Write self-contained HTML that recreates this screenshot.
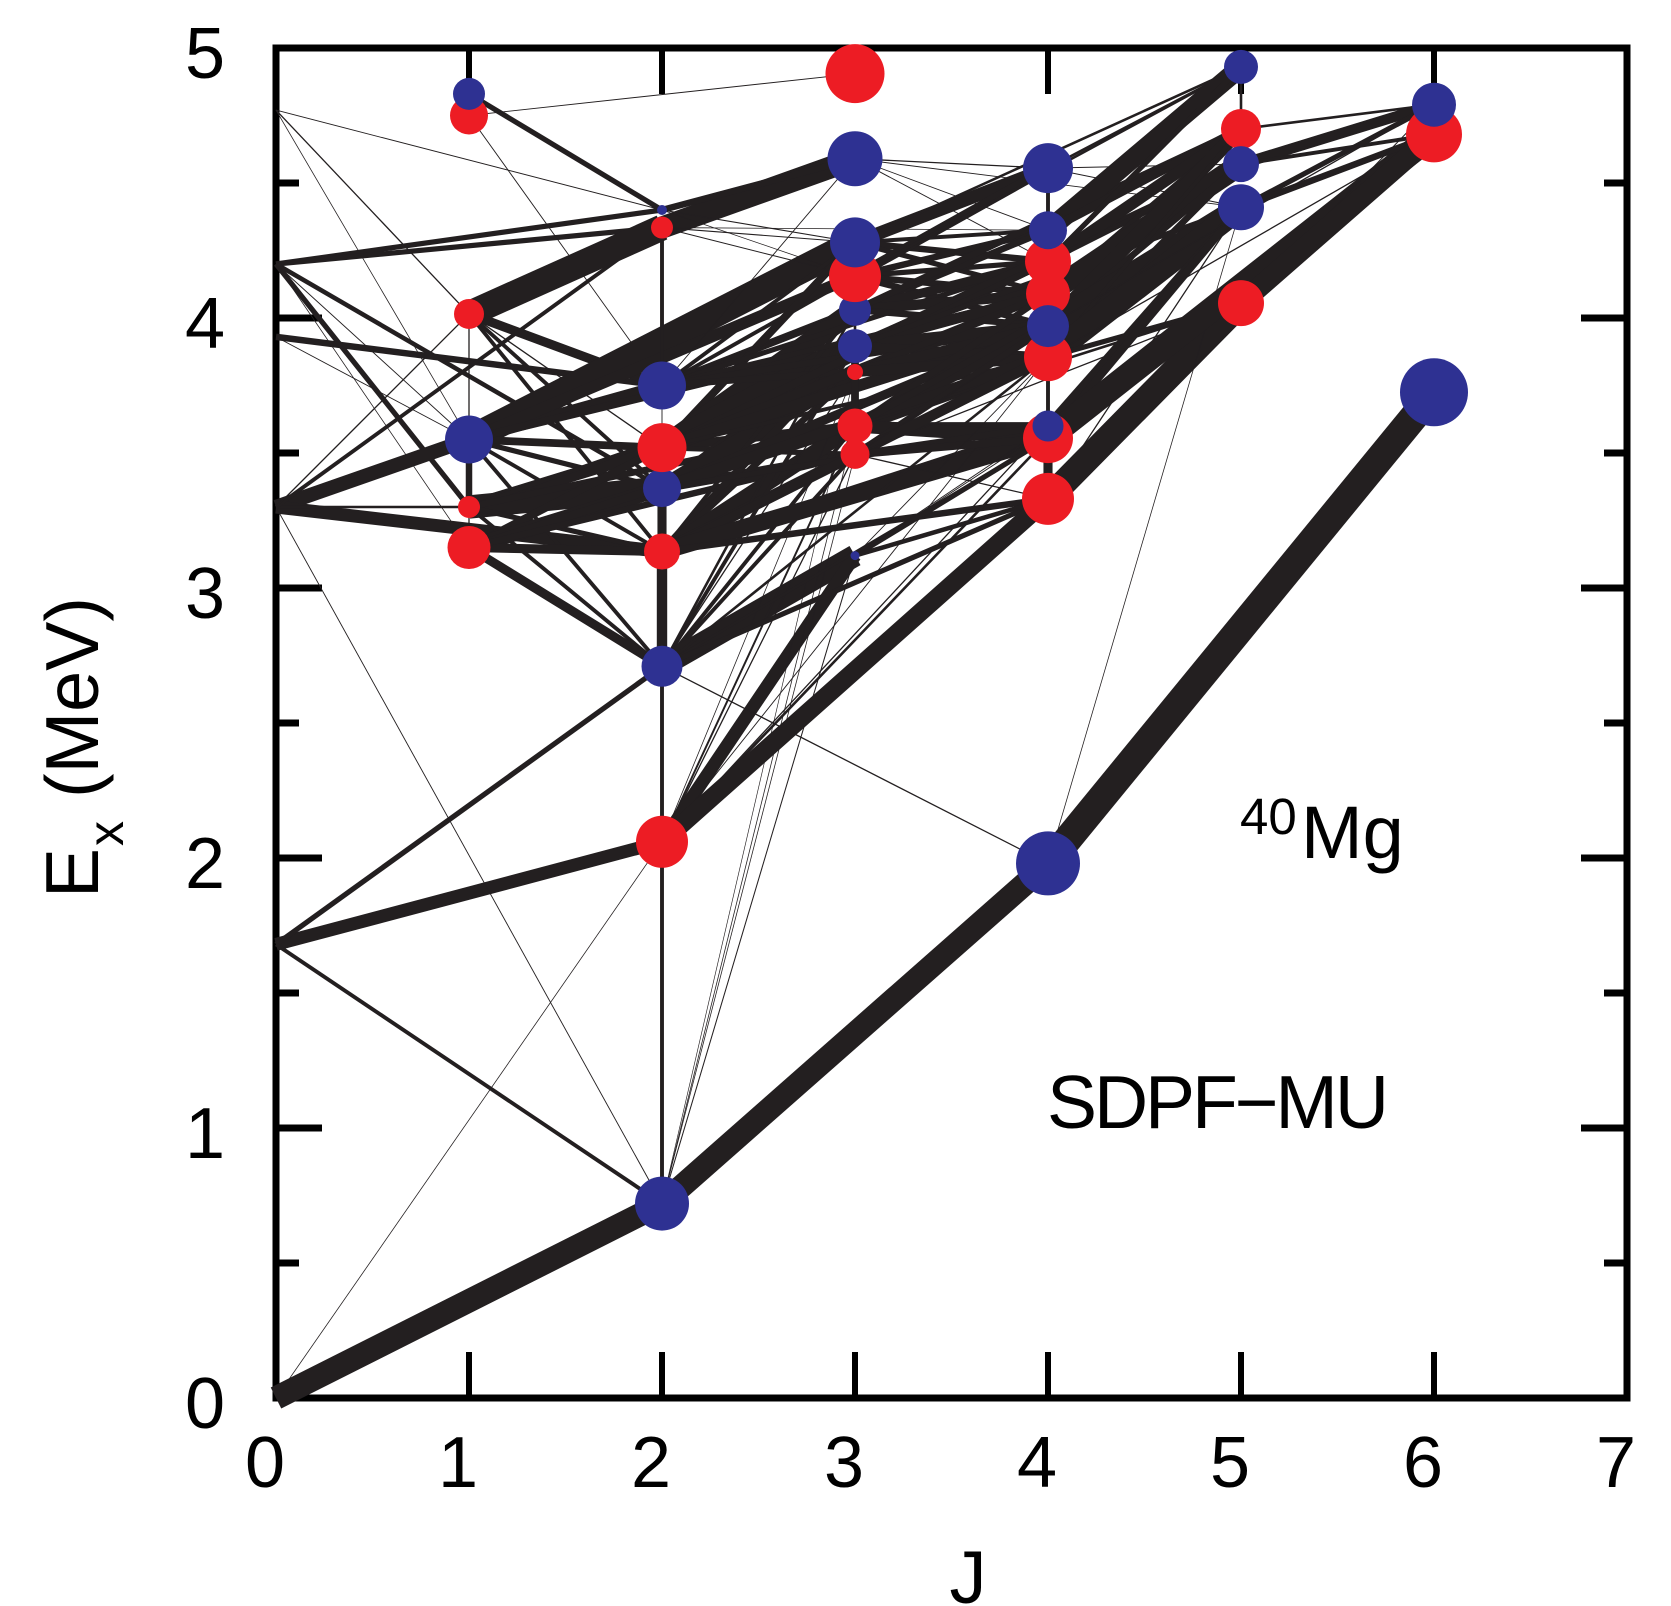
<!DOCTYPE html>
<html>
<head>
<meta charset="utf-8">
<title>40Mg SDPF-MU level scheme</title>
<style>
html,body{margin:0;padding:0;background:#fff;width:1671px;height:1606px;overflow:hidden}
svg{display:block}
text{font-family:"Liberation Sans",sans-serif;fill:#000}
</style>
</head>
<body>
<svg id="chart" xmlns="http://www.w3.org/2000/svg" width="1671" height="1606" viewBox="0 0 1671 1606">
  <g id="axes"></g>
  <g id="edges"></g>
  <g id="nodes"></g>
  <g id="labels"></g>
  <text x="968" y="1603" font-size="74" text-anchor="middle">J</text>
  <g>
    <text transform="translate(98,898) rotate(-90)" font-size="75">E</text>
    <text transform="translate(123,846) rotate(-90)" font-size="50">x</text>
    <text transform="translate(98,798) rotate(-90)" font-size="75" textLength="201" lengthAdjust="spacingAndGlyphs">(MeV)</text>
  </g>
  <g>
    <text x="1240" y="834" font-size="51">40</text>
    <text x="1301" y="858" font-size="74">Mg</text>
  </g>
  <text x="1047" y="1128" font-size="75" textLength="342" lengthAdjust="spacing">SDPF&#8722;MU</text>
</svg>
<script>
// Axis ranges and tick labels
const xTickValues = [0, 1, 2, 3, 4, 5, 6, 7];
const yTickValues = [0, 1, 2, 3, 4, 5];
const yMinorTickValues = [0.5, 1.5, 2.5, 3.5, 4.5];

// Level data: id, spin J, excitation energy (MeV), marker weight, kind
const stateIds    = ['a0','a1','a2','a3','a4','a5'];
const stateSpins  = [0,0,0,0,0,0];
const stateEnergy = [0,1.68,3.3,3.93,4.2,4.77];

const levelIds = ['b0','b1','b2','b3','b4','b5','c0','c1','c2','c3','c4','c5','c6','c7','c8','d0','d1','d2','d3','d4','d5','d6','d7','d8','d9','e0','e1','e2','e3','e4','e5','e6','e7','e8','e9','f0','f1','f2','f3','f4','g0','g1','g2'];
const levelSpins = [1,1,1,1,1,1,2,2,2,2,2,2,2,2,2,3,3,3,3,3,3,3,3,3,3,4,4,4,4,4,4,4,4,4,4,5,5,5,5,5,6,6,6];
const levelEnergy = [4.83,4.75,4.015,3.55,3.30,3.15,4.40,4.335,3.75,3.52,3.37,3.135,2.71,2.06,0.72,4.905,4.59,4.28,4.155,4.03,3.896,3.80,3.60,3.495,3.12,4.555,4.325,4.21,4.09,3.97,3.855,3.60,3.555,3.33,1.98,4.93,4.70,4.57,4.41,4.055,4.79,4.68,3.725];
const levelWeight = [16,19,15,24,11,21.5,5,11,24,24.5,19,18,20.5,26,27,29.5,27.5,25,26,16,17,8,17.5,14.5,4.5,25,19,23,22,21,24,15.5,25,26,32,17,20,18,23,23,22,28,34];
const levelKind = ['p','r','r','p','r','r','p','r','p','r','p','r','p','r','p','r','p','p','r','p','p','r','r','r','p','p','p','r','r','p','r','p','r','r','p','p','r','p','p','r','p','r','p'];
// draw order among overlapping markers within a spin column (later on top)
const levelDrawOrder = ['b1','b0','b2','b3','b4','b5','c0','c1','c2','c4','c3','c5','c6','c7','c8','d0','d1','d4','d3','d2','d5','d6','d7','d8','d9','e0','e2','e1','e5','e3','e4','e7','e6','e8','e9','f0','f1','f2','f3','f4','g1','g0','g2'];

// Transition strengths [from, to, strength]
const yrastBand = [['a0','c8',18],['c8','e9',18],['e9','g2',22]];
const fromSpin0 = [['a5','b2',1],['a5','b3',.6],['a5','c0',.7],['a4','c0',4],['a4','c1',4],['a4','b4',4],['a4','c4',3.5],['a4','b3',.7],['a4','b5',.6],['a3','c2',5],['a3','b3',.7],['a2','b3',11],['a2','c5',10],['a2','b4',2],['a2','c1',3],['a2','b2',1],['a1','c7',10],['a1','c6',4],['a1','c8',3],['a0','c7',.6],['a2','c8',.7]];
const fromSpin1 = [['b0','c0',4],['b1','d0',.7],['b1','c2',.7],['b2','c1',20],['b2','c2',7],['b2','c4',3],['b2','c5',3],['b2','c3',1],['b2','b3',1],['b3','b4',5],['b4','b5',1],['b3','d2',21],['b3','c2',9],['b3','c3',6],['b3','c4',4],['b3','c5',3],['b3','c6',3],['b3','d3',9],['b3','d5',6],['b4','c3',10],['b4','c4',18],['b4','c5',4],['b4','c6',3],['b4','d6',3],['b4','d7',5],['b5','c3',6],['b5','c4',12],['b5','c5',7],['b5','c6',7],['b5','d7',6],['b5','d8',5]];
const fromSpin2 = [['c8','c7',3],['c7','c6',3],['c6','c5',8],['c5','c4',7],['c1','c2',3],['c2','c3',.7],['c1','d1',17],['c0','d1',5],['c1','d2',.8],['c1','d3',.8],['c0','d2',.8],['c0','d3',.6],['c2','d1',.7],['c2','d2',3],['c2','d3',3],['c2','d4',6],['c2','d5',4],['c3','d2',6],['c3','d4',16],['c3','d5',20],['c3','d6',10],['c3','d7',7],['c3','d8',4],['c4','d5',7],['c4','d6',13],['c4','d7',7],['c4','d8',7],['c5','d4',3],['c5','d5',6],['c5','d6',5],['c5','d7',12],['c5','d8',9],['c6','d4',2],['c6','d5',3],['c6','d6',1],['c6','d7',3],['c6','d8',3],['c6','d9',17],['c7','d6',.6],['c7','d7',1.5],['c7','d8',1],['c7','d9',10],['c8','d6',.5],['c8','d7',.6],['c8','d8',.6],['c8','d9',.8],['c1','e1',.6],['c2','e1',1],['c2','e2',4],['c2','e3',4],['c2','e4',5],['c2','e5',5],['c3','e2',6],['c3','e3',7],['c3','e4',9],['c3','e5',3],['c4','e4',7],['c4','e5',9],['c4','e6',4],['c5','e5',6],['c5','e6',6],['c5','e7',13],['c5','e8',5],['c6','e5',2],['c6','e7',2],['c6','e8',4],['c6','e9',1],['c7','e5',.7],['c7','e6',1],['c7','e7',2],['c7','e8',14]];
const fromSpin3 = [['d4','d5',2],['d5','d7',6],['d1','e0',1],['d1','e1',.7],['d1','e2',.7],['d1','f3',.7],['d2','e0',10],['d2','e1',3],['d2','e2',5],['d2','e3',4],['d2','f0',2],['d3','e0',7],['d3','e1',5],['d3','e2',4],['d3','e3',5],['d3','e4',5],['d3','f0',2],['d4','e1',5],['d4','e2',7],['d4','e3',8],['d4','e4',5],['d4','f1',5],['d5','e2',7],['d5','e3',8],['d5','e4',9],['d5','e5',7],['d5','f2',5],['d5','f3',4],['d6','e3',5],['d6','e4',8],['d6','e5',8],['d7','e3',5],['d7','e4',10],['d7','e5',12],['d7','e6',6],['d7','e7',10],['d7','f3',5],['d7','f4',2],['d8','e4',5],['d8','e5',8],['d8','e6',5],['d8','e7',6],['d8','e8',1],['d8','f3',.8],['d8','f4',1],['d9','e5',.7],['d9','e6',.7],['d9','e7',4],['d9','e8',3.5],['d9','f4',.7]];
const fromSpin4 = [['e0','e1',3],['e5','e6',3],['e7','e8',7],['e0','f0',2],['e0','f2',.8],['e0','f3',.8],['e1','f0',15],['e1','f1',7],['e2','f0',4],['e2','f1',9],['e2','f2',4],['e3','f1',4],['e3','f2',17],['e4','f1',11],['e4','f2',5],['e4','f3',18],['e5','f1',3],['e5','f2',5],['e5','f3',18],['e5','f4',4],['e6','f3',7],['e6','f4',6],['e7','f3',6],['e7','f4',4],['e8','f3',1],['e8','f4',20],['e9','f3',.6],['e4','g0',1],['e5','g1',1],['e6','g1',1],['e7','g1',19]];
const fromSpin5 = [['f0','f1',2],['f1','g0',2],['f2','g0',8],['f2','g1',3],['f3','g0',4],['f3','g1',5],['f4','g0',.8],['f4','g1',16]];

const edgeGroups = [fromSpin0, fromSpin1, fromSpin2, fromSpin3, fromSpin4, fromSpin5, yrastBand];

// Axis functions
const xScale = j => 276 + j * 193;
const yScale = e => 1398 - e * 270;
const widthScale = s => s * 1.3;
const radiusScale = w => w * 1.0;

const NS = 'http://www.w3.org/2000/svg';
function make(tag, attrs, parent) {
  const el = document.createElementNS(NS, tag);
  for (const k in attrs) el.setAttribute(k, attrs[k]);
  parent.appendChild(el);
  return el;
}

const axesG = document.getElementById('axes');
const edgesG = document.getElementById('edges');
const nodesG = document.getElementById('nodes');
const labelsG = document.getElementById('labels');

// Frame
const frame = make('rect', {x: xScale(0), y: yScale(5), width: xScale(7) - xScale(0), height: yScale(0) - yScale(5), fill: 'none', stroke: '#000', 'stroke-width': 7}, axesG);



// X ticks (top and bottom)
xTickValues.forEach(j => {
  if (j > 0 && j < 7) {
    const b = make('line', {x1: xScale(j), x2: xScale(j), y1: yScale(0), y2: yScale(0) - 46, stroke: '#000', 'stroke-width': 6}, axesG);
    
    
    const t = make('line', {x1: xScale(j), x2: xScale(j), y1: yScale(5), y2: yScale(5) + 46, stroke: '#000', 'stroke-width': 6}, axesG);
    
    
  }
  const lab = make('text', {x: xScale(j) - 11, y: 1487, 'font-size': 72, 'text-anchor': 'middle'}, labelsG);
  lab.textContent = String(j);
  
  
});

// Y ticks (left and right)
yTickValues.forEach(e => {
  if (e > 0 && e < 5) {
    const l = make('line', {x1: xScale(0), x2: xScale(0) + 46, y1: yScale(e), y2: yScale(e), stroke: '#000', 'stroke-width': 7}, axesG);
    
    
    const r = make('line', {x1: xScale(7), x2: xScale(7) - 46, y1: yScale(e), y2: yScale(e), stroke: '#000', 'stroke-width': 7}, axesG);
    
    
  }
  const lab = make('text', {x: 205, y: yScale(e) + 30, 'font-size': 72, 'text-anchor': 'middle'}, labelsG);
  lab.textContent = String(e);
  
  
});
yMinorTickValues.forEach(e => {
  const l = make('line', {x1: xScale(0), x2: xScale(0) + 23, y1: yScale(e), y2: yScale(e), stroke: '#000', 'stroke-width': 7}, axesG);
  
  
  const r = make('line', {x1: xScale(7), x2: xScale(7) - 23, y1: yScale(e), y2: yScale(e), stroke: '#000', 'stroke-width': 7}, axesG);
  
  
});

// Lookup tables
const lookup = {};
stateIds.forEach((id, i) => { lookup[id] = {j: stateSpins[i], e: stateEnergy[i]}; });
levelIds.forEach((id, i) => { lookup[id] = {j: levelSpins[i], e: levelEnergy[i], w: levelWeight[i], k: levelKind[i]}; });

// Transitions
edgeGroups.forEach(group => {
  group.forEach(tr => {
    const a = lookup[tr[0]], b = lookup[tr[1]];
    const ln = make('line', {x1: xScale(a.j), y1: yScale(a.e), x2: xScale(b.j), y2: yScale(b.e), stroke: '#231f20', 'stroke-width': widthScale(tr[2])}, edgesG);
    
    
  });
});

// Level markers
levelDrawOrder.forEach(id => {
  const s = lookup[id];
  const c = make('circle', {cx: xScale(s.j), cy: yScale(s.e), r: radiusScale(s.w), fill: s.k === 'r' ? '#ed1c24' : '#2e3192'}, nodesG);
  
  
});
</script>
</body>
</html>
